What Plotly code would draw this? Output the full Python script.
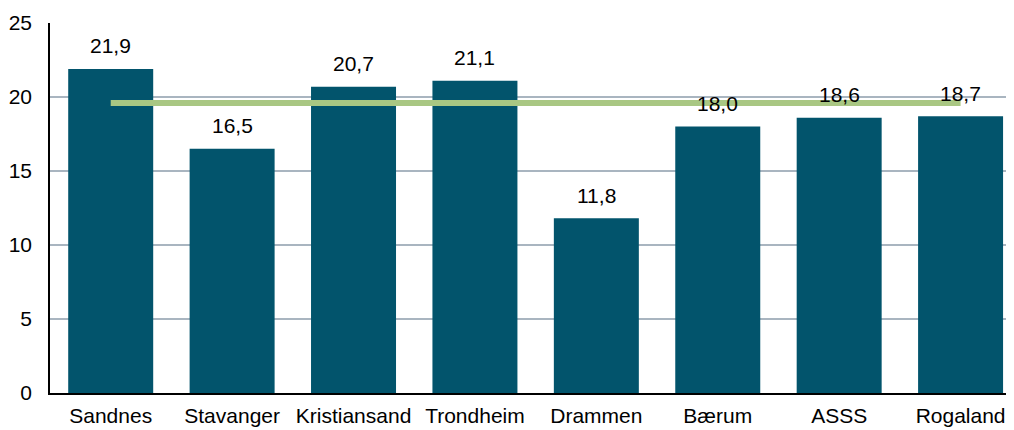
import plotly.graph_objects as go

categories = ["Sandnes", "Stavanger", "Kristiansand", "Trondheim", "Drammen", "Bærum", "ASSS", "Rogaland"]
values = [21.9, 16.5, 20.7, 21.1, 11.8, 18.0, 18.6, 18.7]
average = [19.6] * len(categories)
y_ticks = [0, 5, 10, 15, 20, 25]

BAR = "#02546c"
GREEN = "#a9c783"
FONT = "Liberation Sans, Arial, sans-serif"

fig = go.Figure()
fig.add_trace(go.Bar(x=categories, y=values, marker=dict(color=BAR, line=dict(width=0)),
                     showlegend=False, hoverinfo="x+y"))
fig.add_trace(go.Scatter(x=categories, y=average, mode="lines",
                         line=dict(color=GREEN, width=6), showlegend=False))

for c, v in zip(categories, values):
    fig.add_annotation(x=c, y=v, text=f"{v:.1f}".replace(".", ","), showarrow=False,
                       yshift=23, font=dict(size=21, color="#000000", family=FONT))

fig.update_layout(
    width=1006, height=422,
    margin=dict(l=42, r=0, t=15, b=37),
    paper_bgcolor="white", plot_bgcolor="white",
    bargap=0.3,
    separators=", ",
    font=dict(family=FONT, size=21, color="#000000"),
    xaxis=dict(showline=True, linecolor="#000000", linewidth=1.5, ticks="", automargin=False,
               ticklabelstandoff=3,
               range=[-0.5, 7.44], tickfont=dict(size=21), showgrid=False),
    yaxis=dict(range=[0, 25], tickvals=y_ticks, showline=True, linecolor="#000000", linewidth=1.5,
               showgrid=True, gridcolor="#a9b5c0", gridwidth=1.5, zeroline=False, automargin=False,
               ticks="", ticklabelstandoff=12, tickfont=dict(size=21)),
)

fig.write_html("out.html")
